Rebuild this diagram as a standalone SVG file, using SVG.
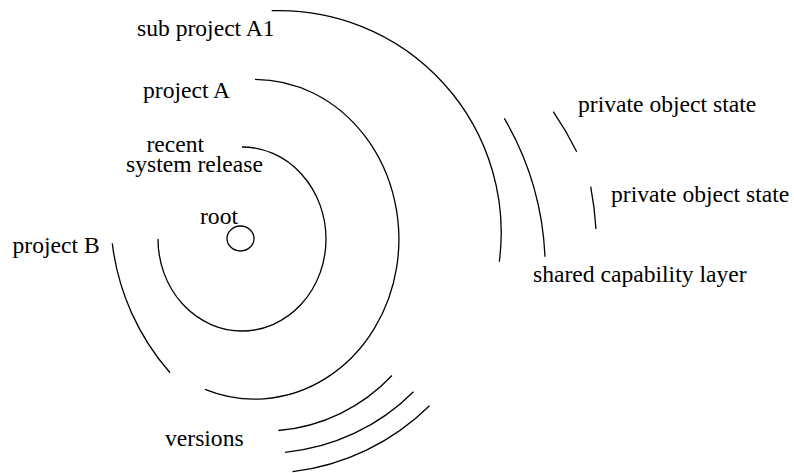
<svg xmlns="http://www.w3.org/2000/svg" width="794" height="473" viewBox="0 0 794 473">
<style>
.arc{fill:none;stroke:#000;stroke-width:1.3}
.lbl{font-family:"Liberation Serif","Times New Roman",serif;font-size:23.6px;fill:#000}
</style>
<rect width="794" height="473" fill="#fff"/>
<g id="root">
<ellipse class="arc" cx="240.5" cy="238.5" rx="13.5" ry="12.5"/>
<text class="lbl" x="200" y="224">root</text>
</g>
<g id="recent-release">
<path class="arc" d="M242 147 A84 92 0 1 1 158 239"/>
<text class="lbl" x="146.5" y="152.3">recent</text>
<text class="lbl" x="126" y="171.7">system release</text>
</g>
<g id="project-a">
<path class="arc" d="M255 79.3 A144.2 159.9 0 1 1 205 389.3"/>
<text class="lbl" x="143" y="97.7">project A</text>
</g>
<g id="project-b">
<path class="arc" d="M112.3 243.3 A239 239 0 0 0 170 372.7"/>
<text class="lbl" x="12.5" y="253.3">project B</text>
</g>
<g id="sub-project-a1">
<path class="arc" d="M271.7 10.7 A222 222 0 0 1 499.3 261.7"/>
<text class="lbl" x="137" y="35.7">sub project A1</text>
</g>
<g id="shared-capability-layer">
<path class="arc" d="M504.3 118.3 A300 300 0 0 1 545 256.7"/>
<text class="lbl" x="533" y="281.7">shared capability layer</text>
</g>
<g id="private-object-state-1">
<path class="arc" d="M553.3 111.7 A352 352 0 0 1 576.7 151.7"/>
<text class="lbl" x="578" y="111.7">private object state</text>
</g>
<g id="private-object-state-2">
<path class="arc" d="M590.7 186.7 A352 352 0 0 1 596 229"/>
<text class="lbl" x="611" y="201.7">private object state</text>
</g>
<g id="versions">
<path class="arc" d="M278.3 430.5 A176 176 0 0 0 392 375.5"/>
<path class="arc" d="M285 452.3 A210 210 0 0 0 413.5 391.7"/>
<path class="arc" d="M292.5 471.7 A235 235 0 0 0 429.5 405.7"/>
<text class="lbl" x="165" y="445.7">versions</text>
</g>
<g id="connectors"/>
</svg>
